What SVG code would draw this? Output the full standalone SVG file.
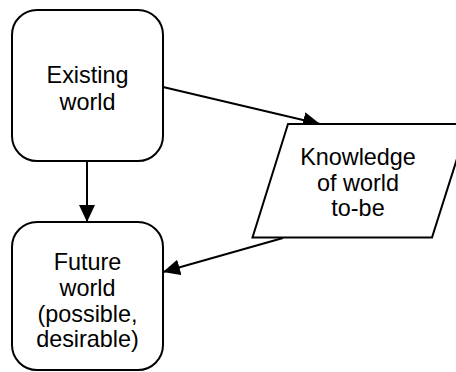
<svg xmlns="http://www.w3.org/2000/svg" width="456" height="372" viewBox="0 0 456 372">
  <style>
    .shape { fill: #ffffff; stroke: #000000; stroke-width: 2; }
    .label { font-family: "Liberation Sans", Arial, sans-serif; font-size: 23.4px; fill: #000000; text-anchor: middle; }
    .edge { fill: none; stroke: #000000; stroke-width: 2; marker-end: url(#arrow); }
  </style>
  <defs>
    <marker id="arrow" markerUnits="userSpaceOnUse" markerWidth="18" markerHeight="16" refX="17" refY="8" orient="auto">
      <path d="M0,0 L17,8 L0,16 Z" fill="#000000"/>
    </marker>
  </defs>
  <rect width="456" height="372" fill="#ffffff"/>

  <g id="connectors">
    <line class="edge" x1="87" y1="161" x2="87" y2="222"/>
    <line class="edge" x1="163" y1="87" x2="320" y2="124"/>
    <line class="edge" x1="283" y1="238" x2="163" y2="272"/>
  </g>

  <g id="existing-world">
    <rect class="shape" x="12" y="10" width="151" height="151" rx="25" ry="25"/>
    <text class="label" x="87.5" y="83">Existing</text>
    <text class="label" x="87.5" y="109.5">world</text>
  </g>

  <g id="future-world">
    <rect class="shape" x="12" y="222" width="151" height="148" rx="25" ry="25"/>
    <text class="label" x="87.5" y="270">Future</text>
    <text class="label" x="87.5" y="296">world</text>
    <text class="label" x="87.5" y="322">(possible,</text>
    <text class="label" x="87.5" y="347">desirable)</text>
  </g>

  <g id="knowledge">
    <polygon class="shape" points="288,124 468,124 432,237.5 252.5,237.5"/>
    <text class="label" x="358" y="165">Knowledge</text>
    <text class="label" x="358" y="191">of world</text>
    <text class="label" x="358" y="216">to-be</text>
  </g>
</svg>
